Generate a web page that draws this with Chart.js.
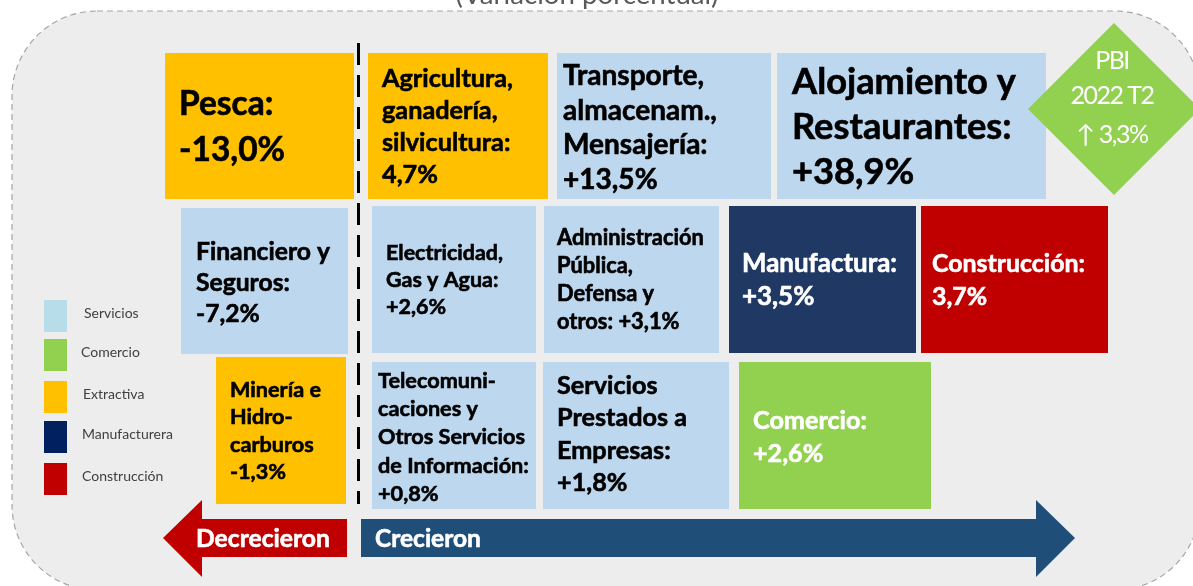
<!DOCTYPE html>
<html>
<head>
<meta charset="utf-8">
<script src="https://cdn.jsdelivr.net/npm/chart.js@4.4.1/dist/chart.umd.min.js"></script>
<style>
  html, body { margin: 0; padding: 0; background: #ffffff; }
  #wrap { width: 1193px; height: 586px; }
</style>
</head>
<body>
<div id="wrap"><canvas id="mapChart" width="1193" height="586"></canvas></div>
<script>
// PBI por sectores, variación porcentual 2022 T2
const sectors = ["Pesca", "Agricultura", "Transporte", "Alojamiento", "Financiero", "Electricidad",
  "Administración", "Manufactura", "Construcción", "Minería", "Telecomunicaciones", "Servicios Prestados", "Comercio"];
const sectorValues = [-13.0, 4.7, 13.5, 38.9, -7.2, 2.6, 3.1, 3.5, 3.7, -1.3, 0.8, 1.8, 2.6];
const sectorGroups = ["Extractiva", "Extractiva", "Servicios", "Servicios", "Servicios", "Servicios",
  "Servicios", "Manufacturera", "Construcción", "Extractiva", "Servicios", "Servicios", "Comercio"];
const sectorLabels = [
  ["Pesca:", "{v}"],
  ["Agricultura,", "ganadería,", "silvicultura:", "{v}"],
  ["Transporte,", "almacenam.,", "Mensajería:", "+{v}"],
  ["Alojamiento y", "Restaurantes:", "+{v}"],
  ["Financiero y", "Seguros:", "{v}"],
  ["Electricidad,", "Gas y Agua:", "+{v}"],
  ["Administración", "Pública,", "Defensa y", "otros: +{v}"],
  ["Manufactura:", "+{v}"],
  ["Construcción:", "{v}"],
  ["Minería e", "Hidro-", "carburos", "{v}"],
  ["Telecomuni-", "caciones y", "Otros Servicios", "de Información:", "+{v}"],
  ["Servicios", "Prestados a", "Empresas:", "+{v}"],
  ["Comercio:", "+{v}"]
];
const legendGroups = ["Servicios", "Comercio", "Extractiva", "Manufacturera", "Construcción"];
const pbiPeriod = "2022 T2";
const pbiValue = 3.3;
const arrowLabels = ["Decrecieron", "Crecieron"];
const titleText = "(Variación porcentual)";

// colores
const boxColors = { Servicios: "#bdd7ee", Comercio: "#92d050", Extractiva: "#ffc000", Manufacturera: "#203864", "Construcción": "#c00000" };
const legendColors = { Servicios: "#b7dee8", Comercio: "#92d050", Extractiva: "#ffc000", Manufacturera: "#002060", "Construcción": "#c00000" };
const textColors = { Servicios: "#000000", Comercio: "#ffffff", Extractiva: "#000000", Manufacturera: "#ffffff", "Construcción": "#ffffff" };

// layout: [x0, y0, x1, y1, textX, firstLineY, lineGap, widestLinePx]
const boxLayout = [
  [165, 53, 354, 199, 179, 104, 46, 106],
  [368, 53, 548, 199, 382, 79, 32, 131],
  [557, 53, 771, 199, 563, 76, 34.5, 154],
  [777, 53, 1046, 199, 792, 82, 45, 224],
  [181, 208, 348, 354, 196, 252, 31, 134],
  [372, 206, 536, 353, 386, 253, 27, 117],
  [544, 206, 719, 353, 557, 238, 28, 147],
  [729, 206, 916, 353, 742, 264, 33, 155],
  [921, 206, 1108, 353, 932, 264, 33, 153],
  [216, 357, 346, 504, 230, 390, 27.5, 91],
  [372, 362, 536, 509, 378, 381, 28.2, 151],
  [543, 362, 729, 509, 557, 386, 32.3, 130],
  [739, 362, 931, 509, 753, 421, 33, 114]
];

const FONT = "Lato, 'Noto Sans', sans-serif";

function fmt(v) {
  return v.toFixed(1).replace(".", ",") + "%";
}

function fitFont(ctx, lines, widest, weight) {
  ctx.font = weight + " 100px " + FONT;
  let m = 0;
  lines.forEach(l => { m = Math.max(m, ctx.measureText(l).width); });
  return 100 * widest / m;
}

// texto negrita algo mas grueso, como Calibri
function boldText(ctx, t, x, y) {
  ctx.fillText(t, x, y);
  ctx.strokeStyle = ctx.fillStyle;
  ctx.lineWidth = 0.6;
  ctx.strokeText(t, x, y);
}

const infographic = {
  id: "infographic",
  beforeDraw(chart) {
    const ctx = chart.ctx;
    const xs = chart.scales.x, ys = chart.scales.y;
    const px = v => xs.getPixelForValue(v);
    const py = v => ys.getPixelForValue(v);
    ctx.save();

    // marco redondeado punteado
    ctx.beginPath();
    ctx.roundRect(px(12), py(11), px(1200) - px(12), py(590) - py(11), 85);
    ctx.fillStyle = "#ededed";
    ctx.fill();
    ctx.setLineDash([6, 4]);
    ctx.strokeStyle = "#a6a6a6";
    ctx.lineWidth = 1.2;
    ctx.stroke();
    ctx.setLineDash([]);

    // titulo cortado arriba
    ctx.fillStyle = "#595959";
    let ts = fitFont(ctx, [titleText], 263, "normal");
    ctx.font = "normal " + ts + "px " + FONT;
    ctx.textAlign = "center";
    ctx.textBaseline = "alphabetic";
    ctx.fillText(titleText, px(587), py(4));

    // cajas
    ctx.textAlign = "left";
    ctx.textBaseline = "middle";
    sectors.forEach((s, i) => {
      const [x0, y0, x1, y1, tx, ty, gap, widest] = boxLayout[i];
      const g = sectorGroups[i];
      ctx.fillStyle = boxColors[g];
      ctx.fillRect(px(x0), py(y0), px(x1) - px(x0), py(y1) - py(y0));
      const lines = sectorLabels[i].map(l => l.replace("{v}", fmt(sectorValues[i])));
      const size = fitFont(ctx, lines, widest, "bold");
      ctx.font = "bold " + size + "px " + FONT;
      ctx.fillStyle = textColors[g];
      lines.forEach((l, k) => boldText(ctx, l, px(tx), py(ty + k * gap)));
    });

    // linea divisoria
    ctx.beginPath();
    ctx.setLineDash([22, 10]);
    ctx.strokeStyle = "#000000";
    ctx.lineWidth = 3;
    ctx.moveTo(px(358.5), py(43));
    ctx.lineTo(px(358.5), py(504));
    ctx.stroke();
    ctx.setLineDash([]);

    // rombo PBI
    ctx.beginPath();
    ctx.moveTo(px(1114), py(23));
    ctx.lineTo(px(1200), py(109));
    ctx.lineTo(px(1114), py(195));
    ctx.lineTo(px(1028), py(109));
    ctx.closePath();
    ctx.fillStyle = "#92d050";
    ctx.fill();
    ctx.fillStyle = "#ffffff";
    ctx.textAlign = "center";
    ctx.font = "normal 25px " + FONT;
    ctx.letterSpacing = "-1.5px";
    ctx.fillText("PBI", px(1112), py(61));
    ctx.fillText(pbiPeriod, px(1112), py(96));
    ctx.fillText("↑ " + fmt(pbiValue), px(1112), py(135));
    ctx.letterSpacing = "0px";

    // flechas
    ctx.beginPath();
    ctx.moveTo(px(163), py(538));
    ctx.lineTo(px(202), py(500));
    ctx.lineTo(px(202), py(519));
    ctx.lineTo(px(347), py(519));
    ctx.lineTo(px(347), py(557));
    ctx.lineTo(px(202), py(557));
    ctx.lineTo(px(202), py(577));
    ctx.closePath();
    ctx.fillStyle = "#c00000";
    ctx.fill();

    ctx.beginPath();
    ctx.moveTo(px(361), py(519));
    ctx.lineTo(px(1036), py(519));
    ctx.lineTo(px(1036), py(500));
    ctx.lineTo(px(1075), py(538));
    ctx.lineTo(px(1036), py(577));
    ctx.lineTo(px(1036), py(557));
    ctx.lineTo(px(361), py(557));
    ctx.closePath();
    ctx.fillStyle = "#1f4e79";
    ctx.fill();

    ctx.textAlign = "left";
    ctx.fillStyle = "#ffffff";
    let as = fitFont(ctx, [arrowLabels[0]], 134, "bold");
    ctx.font = "bold " + as + "px " + FONT;
    boldText(ctx, arrowLabels[0], px(196), py(539));
    as = fitFont(ctx, [arrowLabels[1]], 106, "bold");
    ctx.font = "bold " + as + "px " + FONT;
    boldText(ctx, arrowLabels[1], px(375), py(539));

    // leyenda
    const legendY = [300, 339, 381, 421, 463];
    const legendTx = [84, 81, 83, 82, 82];
    ctx.font = "normal 14px " + FONT;
    legendGroups.forEach((g, i) => {
      ctx.fillStyle = legendColors[g];
      ctx.fillRect(px(44), py(legendY[i]), px(67) - px(44), py(legendY[i] + 32) - py(legendY[i]));
      ctx.fillStyle = "#404040";
      ctx.fillText(g, px(legendTx[i]), py(legendY[i] + 13));
    });

    ctx.restore();
  }
};

new Chart(document.getElementById("mapChart").getContext("2d"), {
  type: "scatter",
  data: { datasets: [{ data: sectorValues.map(() => null), pointRadius: 0 }] },
  options: {
    responsive: false,
    animation: false,
    layout: { padding: 0 },
    plugins: { legend: { display: false }, tooltip: { enabled: false } },
    scales: {
      x: { type: "linear", min: 0, max: 1193, display: false },
      y: { type: "linear", min: 0, max: 586, reverse: true, display: false }
    }
  },
  plugins: [infographic]
});
</script>
</body>
</html>
